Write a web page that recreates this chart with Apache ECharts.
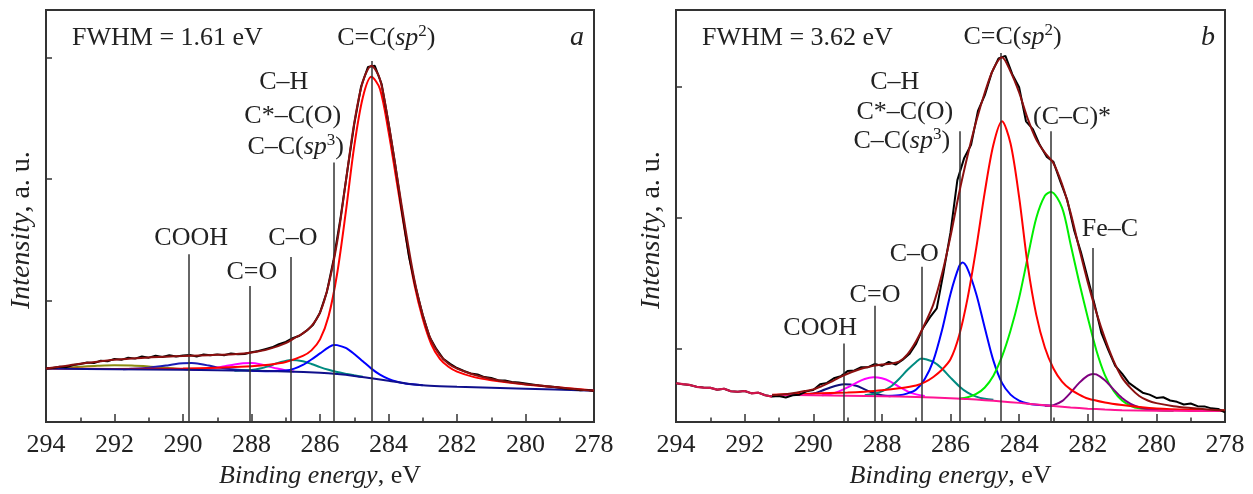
<!DOCTYPE html>
<html><head><meta charset="utf-8">
<script src="https://cdn.jsdelivr.net/npm/echarts@6/dist/echarts.min.js"></script>
<style>html,body{margin:0;padding:0;background:#fff}#c{width:1253px;height:494px}</style>
</head><body><div id="c"></div>
<script>
// ---------- tick labels ----------
const xTickMin = 278, xTickMax = 294, xTickStep = 2;
const yTicksA = [1, 2, 3];
const yTicksB = [0.563, 1.565, 2.563];

// ---------- panel a (FWHM = 1.61 eV) ----------
const specA = [[294,0.44],[293.8,0.445],[293.6,0.455],[293.4,0.452],[293.2,0.47],[293,0.478],[292.8,0.49],[292.6,0.485],[292.4,0.505],[292.2,0.5],[292,0.52],[291.8,0.512],[291.6,0.53],[291.4,0.522],[291.2,0.54],[291,0.53],[290.8,0.545],[290.6,0.535],[290.4,0.55],[290.2,0.54],[290,0.548],[289.8,0.552],[289.6,0.54],[289.4,0.556],[289.2,0.55],[289,0.557],[288.8,0.55],[288.6,0.565],[288.4,0.558],[288.2,0.56],[288,0.575],[287.8,0.585],[287.6,0.6],[287.4,0.615],[287.2,0.64],[287,0.66],[286.8,0.69],[286.6,0.71],[286.4,0.75],[286.2,0.8],[286,0.9],[285.8,1.07],[285.6,1.34],[285.4,1.68],[285.2,2.07],[285,2.45],[284.8,2.76],[284.6,2.92],[284.4,2.93],[284.2,2.78],[284,2.46],[283.8,2.11],[283.6,1.72],[283.4,1.36],[283.2,1.1],[283,0.88],[282.8,0.7],[282.6,0.6],[282.4,0.52],[282.2,0.48],[282,0.445],[281.8,0.42],[281.6,0.4],[281.4,0.392],[281.2,0.37],[281,0.362],[280.8,0.345],[280.6,0.342],[280.4,0.33],[280.2,0.325],[280,0.318],[279.8,0.31],[279.6,0.302],[279.4,0.295],[279.2,0.29],[279,0.282],[278.8,0.275],[278.6,0.272],[278.4,0.262],[278.2,0.265],[278,0.255]];
const envA = [[294,0.44],[293.5,0.46],[293,0.48],[292.5,0.497],[292,0.512],[291.5,0.523],[291,0.532],[290.5,0.538],[290,0.543],[289.5,0.548],[289,0.553],[288.5,0.558],[288,0.572],[287.5,0.6],[287,0.65],[286.75,0.69],[286.5,0.73],[286.25,0.79],[286,0.9],[285.75,1.13],[285.5,1.48],[285.25,1.97],[285,2.46],[284.75,2.8],[284.5,2.93],[284.25,2.82],[284,2.46],[283.75,2.02],[283.5,1.58],[283.25,1.18],[283,0.88],[282.75,0.67],[282.5,0.55],[282.25,0.48],[282,0.44],[281.5,0.39],[281,0.355],[280.5,0.33],[280,0.312],[279.5,0.298],[279,0.284],[278.5,0.27],[278,0.258]];
const bgA = [[294,0.44],[292,0.435],[290,0.43],[288,0.422],[287,0.416],[286,0.405],[285.5,0.395],[285,0.38],[284.5,0.36],[284,0.34],[283.5,0.318],[283,0.303],[282.5,0.295],[282,0.29],[280,0.275],[278,0.258]];
const sp2A = [[294,0.44],[292,0.437],[290,0.44],[289,0.447],[288,0.46],[287.5,0.472],[287,0.495],[286.5,0.545],[286.25,0.59],[286,0.68],[285.75,0.87],[285.5,1.22],[285.25,1.72],[285,2.27],[284.75,2.67],[284.5,2.84],[284.25,2.74],[284,2.39],[283.75,1.96],[283.5,1.53],[283.25,1.14],[283,0.85],[282.75,0.64],[282.5,0.52],[282.25,0.455],[282,0.415],[281.5,0.37],[281,0.345],[280,0.31],[279,0.284],[278,0.26]];
const sp3A = [[288,0.422],[287.5,0.418],[287,0.424],[286.75,0.44],[286.5,0.47],[286.25,0.515],[286,0.565],[285.75,0.615],[285.6,0.635],[285.5,0.633],[285.25,0.61],[285,0.56],[284.75,0.5],[284.5,0.44],[284.25,0.39],[284,0.355],[283.75,0.332],[283.5,0.318],[283,0.303]];
const coA = [[288.5,0.423],[288,0.428],[287.75,0.44],[287.5,0.46],[287.25,0.485],[287,0.503],[286.85,0.51],[286.5,0.5],[286.25,0.478],[286,0.452],[285.75,0.43],[285.5,0.412],[285.25,0.398],[285,0.385],[284.75,0.373]];
const c2oA = [[289.75,0.43],[289.5,0.435],[289,0.448],[288.75,0.461],[288.5,0.474],[288.25,0.483],[288,0.485],[287.75,0.476],[287.5,0.458],[287.25,0.44],[287,0.425],[286.75,0.416]];
const coohA = [[291.75,0.435],[291.5,0.438],[291,0.448],[290.5,0.465],[290.25,0.476],[290,0.483],[289.75,0.485],[289.5,0.478],[289.25,0.465],[289,0.45],[288.5,0.432],[288,0.423]];
const satA = [[294,0.44],[293.5,0.446],[293,0.455],[292.5,0.463],[292,0.468],[291.5,0.466],[291,0.458],[290.5,0.447],[290,0.437],[289.5,0.43]];
const annEA = [284.5, 285.6, 286.85, 288.05, 289.82];
const annTopA = [2.97, 2.135, 1.357, 1.119, 1.381];

// ---------- panel b (FWHM = 3.62 eV) ----------
const specB = [[294,0.297],[293.8,0.29],[293.6,0.284],[293.4,0.27],[293.2,0.264],[293,0.262],[292.8,0.248],[292.6,0.255],[292.4,0.236],[292.2,0.232],[292,0.238],[291.8,0.22],[291.6,0.225],[291.4,0.205],[291.2,0.195],[291,0.2],[290.8,0.188],[290.6,0.205],[290.4,0.21],[290.2,0.235],[290,0.245],[289.8,0.29],[289.6,0.3],[289.4,0.335],[289.2,0.35],[289,0.39],[288.8,0.395],[288.6,0.42],[288.4,0.42],[288.2,0.445],[288,0.43],[287.8,0.46],[287.6,0.44],[287.4,0.475],[287.2,0.52],[287,0.6],[286.8,0.72],[286.6,0.8],[286.4,0.87],[286.2,1.15],[286,1.45],[285.8,1.85],[285.6,2.02],[285.4,2.12],[285.2,2.38],[285,2.5],[284.8,2.67],[284.6,2.78],[284.4,2.8],[284.2,2.66],[284,2.56],[283.8,2.3],[283.6,2.24],[283.4,2.12],[283.2,2.03],[283,1.99],[282.8,1.84],[282.6,1.7],[282.4,1.47],[282.2,1.3],[282,1.1],[281.8,0.9],[281.6,0.68],[281.4,0.55],[281.2,0.43],[281,0.37],[280.8,0.3],[280.6,0.262],[280.4,0.225],[280.2,0.21],[280,0.185],[279.8,0.19],[279.6,0.165],[279.4,0.155],[279.2,0.135],[279,0.142],[278.8,0.122],[278.6,0.12],[278.4,0.105],[278.2,0.1],[278,0.075]];
const envB = [[291.2,0.208],[291,0.21],[290.75,0.215],[290.5,0.225],[290.25,0.237],[290,0.25],[289.75,0.275],[289.5,0.305],[289.25,0.34],[289,0.37],[288.75,0.395],[288.5,0.415],[288.25,0.43],[288,0.44],[287.75,0.447],[287.5,0.462],[287.25,0.52],[287,0.62],[286.75,0.75],[286.5,0.9],[286.25,1.13],[286,1.42],[285.75,1.75],[285.5,2.04],[285.25,2.3],[285,2.52],[284.75,2.7],[284.5,2.79],[284.25,2.68],[284,2.52],[283.75,2.32],[283.5,2.16],[283.25,2.06],[283,1.98],[282.75,1.82],[282.5,1.6],[282.25,1.33],[282,1.07],[281.75,0.84],[281.5,0.64],[281.25,0.47],[281,0.34],[280.75,0.26],[280.5,0.2],[280.25,0.165],[280,0.145],[279.5,0.122],[279,0.108],[278.5,0.097],[278,0.09]];
const bgB = [[291.2,0.208],[290,0.205],[289,0.202],[288,0.198],[287,0.192],[286,0.183],[285.5,0.176],[285,0.168],[284.5,0.158],[284,0.147],[283.5,0.135],[283,0.123],[282.5,0.112],[282,0.103],[281.5,0.096],[281,0.091],[280,0.087],[279,0.085],[278,0.084]];
const sp2B = [[291.2,0.21],[290,0.218],[289,0.226],[288.5,0.233],[288,0.243],[287.5,0.258],[287,0.28],[286.75,0.305],[286.5,0.345],[286.25,0.4],[286,0.48],[285.75,0.66],[285.5,0.95],[285.25,1.33],[285,1.76],[284.75,2.12],[284.5,2.3],[284.25,2.13],[284,1.72],[283.75,1.2],[283.5,0.82],[283.25,0.57],[283,0.41],[282.75,0.31],[282.5,0.25],[282.25,0.21],[282,0.18],[281.5,0.15],[281,0.13],[280.5,0.115],[280,0.104],[279,0.094],[278,0.088]];
const ccB = [[285.75,0.18],[285.5,0.19],[285.25,0.215],[285,0.265],[284.75,0.355],[284.5,0.5],[284.25,0.7],[284,0.95],[283.75,1.26],[283.5,1.56],[283.25,1.73],[283.07,1.76],[282.75,1.64],[282.5,1.36],[282.25,1.07],[282,0.8],[281.75,0.55],[281.5,0.36],[281.25,0.24],[281,0.165],[280.75,0.125],[280.5,0.105],[280,0.092],[279.5,0.086]];
const sp3B = [[288,0.2],[287.5,0.205],[287.25,0.22],[287,0.25],[286.75,0.33],[286.5,0.47],[286.25,0.7],[286,0.98],[285.75,1.19],[285.65,1.22],[285.5,1.17],[285.25,0.98],[285,0.72],[284.75,0.47],[284.5,0.3],[284.25,0.21],[284,0.165],[283.75,0.142],[283.5,0.132],[283,0.123]];
const coB = [[288.5,0.205],[288.25,0.215],[288,0.235],[287.75,0.27],[287.5,0.33],[287.25,0.4],[287,0.46],[286.85,0.487],[286.75,0.483],[286.5,0.46],[286.25,0.41],[286,0.34],[285.75,0.275],[285.5,0.225],[285.25,0.195],[285,0.178],[284.75,0.17]];
const c2oB = [[289.75,0.205],[289.5,0.215],[289.25,0.235],[289,0.265],[288.75,0.3],[288.5,0.33],[288.25,0.342],[288,0.335],[287.75,0.31],[287.5,0.27],[287.25,0.235],[287,0.212],[286.75,0.2]];
const coohB = [[290.25,0.21],[290,0.218],[289.75,0.24],[289.5,0.265],[289.25,0.284],[289.1,0.289],[288.75,0.278],[288.5,0.25],[288.25,0.222],[288,0.205],[287.75,0.198]];
const fecB = [[283.25,0.125],[283,0.13],[282.75,0.16],[282.5,0.225],[282.25,0.3],[282,0.355],[281.85,0.368],[281.75,0.365],[281.5,0.32],[281.25,0.25],[281,0.185],[280.75,0.14],[280.5,0.113],[280.25,0.1],[280,0.092],[279.5,0.088]];
const annEB = [284.54, 285.73, 283.07, 281.85, 286.85, 288.2, 289.1];
const annTopB = [2.823, 2.223, 2.223, 1.332, 1.187, 0.89, 0.601];

// ---------- styling ----------
const FONT = '"Liberation Serif","Times New Roman",serif';
const TXT = '#222';
const rich = {
  n: {fontFamily: FONT, fontSize: 26, color: TXT, fill: TXT},
  i: {fontFamily: FONT, fontSize: 26, fontStyle: 'italic', color: TXT, fill: TXT},
  s: {fontFamily: FONT, fontSize: 17, color: TXT, fill: TXT, verticalAlign: 'top', lineHeight: 30}
};
const richY = {
  n: {fontFamily: FONT, fontSize: 28, color: TXT, fill: TXT},
  i: {fontFamily: FONT, fontSize: 28, fontStyle: 'italic', color: TXT, fill: TXT}
};
// text labels: which annotation line they hang on, pixel offset of their centre from the line top
const labelsA = [
  {t: '{n|C=C(}{i|sp}{s|2}{n|)}', k: 0, dx: 15, dy: -23},
  {t: '{n|C–H}', k: 1, dx: -50, dy: -80},
  {t: '{n|C*–C(O)}', k: 1, dx: -41, dy: -46},
  {t: '{n|C–C(}{i|sp}{s|3}{n|)}', k: 1, dx: -38, dy: -15},
  {t: '{n|C–O}', k: 2, dx: 2, dy: -19},
  {t: '{n|C=O}', k: 3, dx: 2, dy: -14},
  {t: '{n|COOH}', k: 4, dx: 2, dy: -16}
];
const labelsB = [
  {t: '{n|C=C(}{i|sp}{s|2}{n|)}', k: 0, dx: 12, dy: -16},
  {t: '{n|C–H}', k: 1, dx: -65, dy: -49},
  {t: '{n|C*–C(O)}', k: 1, dx: -55, dy: -19},
  {t: '{n|C–C(}{i|sp}{s|3}{n|)}', k: 1, dx: -58, dy: 10},
  {t: '{n|(C–C)*}', k: 2, dx: 21, dy: -14},
  {t: '{n|Fe–C}', k: 3, dx: 17, dy: -19},
  {t: '{n|C–O}', k: 4, dx: -7, dy: -13},
  {t: '{n|C=O}', k: 5, dx: 0, dy: -11},
  {t: '{n|COOH}', k: 6, dx: -24, dy: -15}
];

const chart = echarts.init(document.getElementById('c'), null, {renderer: 'canvas'});

function xAx(g) {
  return {
    gridIndex: g, type: 'value', min: xTickMin, max: xTickMax, interval: xTickStep, inverse: true,
    axisLine: {show: true, onZero: false, lineStyle: {color: '#333', width: 2}},
    axisTick: {show: true, inside: true, length: 8, lineStyle: {color: '#333', width: 1.5}},
    minorTick: {show: true, splitNumber: 2, length: 4.5, lineStyle: {color: '#333', width: 1.5}},
    axisLabel: {show: true, margin: 10, fontFamily: FONT, fontSize: 26, color: TXT},
    splitLine: {show: false}, minorSplitLine: {show: false},
    name: '{i|Binding energy}{n|, eV}', nameLocation: 'middle', nameGap: 40,
    nameTextStyle: {fontFamily: FONT, fontSize: 26, color: TXT, rich: rich}
  };
}
function yAx(g, max, ticks) {
  return {
    gridIndex: g, type: 'value', min: 0, max: max,
    axisLine: {show: true, lineStyle: {color: '#333', width: 2}},
    axisTick: {show: true, inside: true, length: 6, customValues: ticks, lineStyle: {color: '#333', width: 1.5}},
    axisLabel: {show: false, customValues: ticks},
    splitLine: {show: false}
  };
}
function ln(data, color, width, g, z) {
  return {type: 'line', data: data, xAxisIndex: g, yAxisIndex: g, symbol: 'none', smooth: 0.3,
    lineStyle: {color: color, width: width}, z: z, silent: true, animation: false};
}
function rawLn(data, color, width, g, z) {
  return {type: 'line', data: data, xAxisIndex: g, yAxisIndex: g, symbol: 'none', smooth: false,
    lineStyle: {color: color, width: width}, z: z, silent: true, animation: false};
}
function annSeries(es, tops, g) {
  return {type: 'line', data: [], xAxisIndex: g, yAxisIndex: g, silent: true, animation: false, z: 1,
    markLine: {symbol: ['none', 'none'], silent: true, animation: false, label: {show: false},
      lineStyle: {color: '#333', width: 1.5, type: 'solid'},
      data: es.map((e, i) => [{coord: [e, tops[i]]}, {coord: [e, 0]}])}};
}

const option = {
  backgroundColor: '#fff',
  animation: false,
  grid: [
    {left: 46, top: 10, width: 548, height: 413.5, show: true, borderColor: '#333', borderWidth: 2},
    {left: 676, top: 10, width: 549, height: 414, show: true, borderColor: '#333', borderWidth: 2}
  ],
  xAxis: [xAx(0), xAx(1)],
  yAxis: [yAx(0, 3.389, yTicksA), yAx(1, 3.151, yTicksB)],
  series: [
    annSeries(annEA, annTopA, 0),
    ln(satA, '#8c8c10', 2, 0, 2),
    ln(coohA, '#1c1cb4', 2, 0, 2),
    ln(c2oA, '#ff00ff', 2, 0, 2),
    ln(coA, '#008b80', 2, 0, 2),
    ln(sp3A, '#0000ff', 2, 0, 2),
    ln(sp2A, '#ff0000', 2, 0, 3),
    ln(bgA, '#10108c', 2, 0, 3),
    rawLn(specA, '#000000', 2, 0, 4),
    ln(envA, '#8b1010', 2, 0, 5),

    annSeries(annEB, annTopB, 1),
    ln(coohB, '#10107a', 2, 1, 2),
    ln(c2oB, '#ff00ff', 2, 1, 2),
    ln(coB, '#008b80', 2, 1, 2),
    ln(sp3B, '#0000ff', 2, 1, 2),
    ln(ccB, '#00ee00', 2, 1, 2),
    ln(fecB, '#800080', 2, 1, 2),
    ln(sp2B, '#ff0000', 2, 1, 3),
    ln(bgB, '#ff1493', 2, 1, 3),
    rawLn(specB, '#000000', 2, 1, 4),
    rawLn(specB.filter(p => p[0] >= 291.2), '#d0154a', 2.2, 1, 5),
    ln(envB, '#8b1010', 2, 1, 5)
  ]
};
chart.setOption(option);

function labelGraphics(labels, es, tops, g) {
  return labels.map(L => {
    const p = chart.convertToPixel({gridIndex: g}, [es[L.k], tops[L.k]]);
    return {type: 'text', x: p[0] + L.dx, y: p[1] + L.dy, z: 10, silent: true,
      style: {text: L.t, rich: rich, fontFamily: FONT, fontSize: 26, fill: TXT, align: 'center', verticalAlign: 'middle'}};
  });
}
function frameText(g, left, right) {
  const r = chart.getModel().getComponent('grid', g).coordinateSystem.getRect();
  return [
    {type: 'text', x: r.x + 26, y: 38, silent: true, z: 10,
      style: {text: left, fontFamily: FONT, fontSize: 26, fill: TXT, align: 'left', verticalAlign: 'middle'}},
    {type: 'text', x: r.x + r.width - 10, y: 38, silent: true, z: 10,
      style: {text: right, fontFamily: FONT, fontSize: 28, fontStyle: 'italic', fill: TXT, align: 'right', verticalAlign: 'middle'}},
    {type: 'text', x: r.x - 24, y: r.y + r.height / 2 + 14, rotation: Math.PI / 2, silent: true, z: 10,
      style: {text: '{i|Intensity}{n|, a. u.}', rich: richY, fontFamily: FONT, fontSize: 28, fill: TXT, align: 'center', verticalAlign: 'middle'}}
  ];
}
chart.setOption({
  graphic: [].concat(
    labelGraphics(labelsA, annEA, annTopA, 0),
    labelGraphics(labelsB, annEB, annTopB, 1),
    frameText(0, 'FWHM = 1.61 eV', 'a'),
    frameText(1, 'FWHM = 3.62 eV', 'b')
  )
});
</script>
</body></html>
